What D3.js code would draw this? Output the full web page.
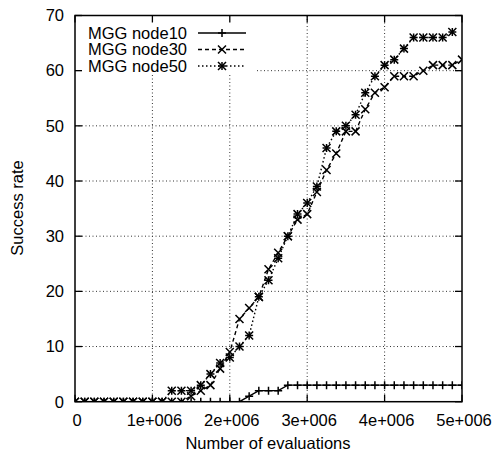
<!DOCTYPE html>
<html><head><meta charset="utf-8">
<script src="https://cdn.jsdelivr.net/npm/d3@7"></script>
<style>body{margin:0;background:#fff}svg{display:block}text{font-family:"Liberation Sans",Arial,sans-serif;fill:#000}</style>
</head><body>
<svg id="c" width="496" height="455"></svg>
<script>
const step = 125000;
const node10 = [0,0,0,0,0,0,0,0,0,0,0,0,0,0,0,0,0,0,1,2,2,2,3,3,3,3,3,3,3,3,3,3,3,3,3,3,3,3,3,3,3];
const node30 = [0,0,0,0,0,0,0,0,0,0,0,0,1,2,3,6,9,15,17,19,24,27,30,33,34,38,42,45,49,49,53,56,57,59,59,59,60,61,61,61,62];
const node50 = [0,0,0,0,0,0,0,0,0,0,2,2,2,3,5,7,8,10,12,19,22,26,30,34,36,39,46,49,50,52,56,59,61,62,64,66,66,66,66,67];
const seriesNames = ["MGG node10","MGG node30","MGG node50"];
const xTicks = [0,1e6,2e6,3e6,4e6,5e6];
const xTickLabels = ["0","1e+006","2e+006","3e+006","4e+006","5e+006"];
const yTicks = [0,10,20,30,40,50,60,70];

const L=75,R=462,T=15.5,B=401.7;
const FS=16.5;
const svg=d3.select("#c");
const x=d3.scaleLinear().domain([0,5e6]).range([L,R]);
const y=d3.scaleLinear().domain([0,70]).range([B,T]);

svg.append("defs").append("clipPath").attr("id","clip").append("rect")
  .attr("x",L).attr("y",T).attr("width",R-L).attr("height",B-T);

// grid
const g=svg.append("g");
g.selectAll(".gx").data(xTicks.slice(1,-1)).join("line")
  .attr("x1",d=>x(d)).attr("x2",d=>x(d)).attr("y1",T).attr("y2",B)
  .attr("stroke","#333").attr("stroke-width",1).attr("stroke-dasharray","1,2.5");
g.selectAll(".gy").data(yTicks.slice(1,-1)).join("line")
  .attr("y1",d=>y(d)).attr("y2",d=>y(d)).attr("x1",L).attr("x2",R)
  .attr("stroke","#333").attr("stroke-width",1).attr("stroke-dasharray","1,2.5");

// legend background
svg.append("rect").attr("x",L).attr("y",T).attr("width",181).attr("height",59).attr("fill","#fff");

// ticks
const tk=7;
xTicks.forEach(d=>{
  svg.append("line").attr("x1",x(d)).attr("x2",x(d)).attr("y1",B).attr("y2",B-tk).attr("stroke","#000").attr("stroke-width",1.3);
  svg.append("line").attr("x1",x(d)).attr("x2",x(d)).attr("y1",T).attr("y2",T+tk).attr("stroke","#000").attr("stroke-width",1.3);
});
yTicks.forEach(d=>{
  svg.append("line").attr("x1",L).attr("x2",L+tk).attr("y1",y(d)).attr("y2",y(d)).attr("stroke","#000").attr("stroke-width",1.3);
  svg.append("line").attr("x1",R).attr("x2",R-tk).attr("y1",y(d)).attr("y2",y(d)).attr("stroke","#000").attr("stroke-width",1.3);
});
svg.selectAll(".xl").data(xTicks).join("text")
  .attr("x",d=>x(d)+2).attr("y",426).attr("text-anchor","middle").attr("font-size",FS)
  .text((d,i)=>xTickLabels[i]);
svg.selectAll(".yl").data(yTicks).join("text")
  .attr("x",64).attr("y",d=>y(d)+5.8).attr("text-anchor","end").attr("font-size",FS)
  .text(d=>d);
svg.append("text").attr("x",268).attr("y",449).attr("text-anchor","middle").attr("font-size",FS).text("Number of evaluations");
svg.append("text").attr("transform","translate(23,208) rotate(-90)").attr("text-anchor","middle").attr("font-size",FS).text("Success rate");

// markers
const s=4;
function plus(sel){sel.append("path").attr("d",`M${-s},0H${s}M0,${-s}V${s}`);}
function cross(sel){sel.append("path").attr("d",`M${-s},${-s}L${s},${s}M${-s},${s}L${s},${-s}`);}
function star(sel){plus(sel);cross(sel);}
const styles=[
  {data:node10,dash:null,mark:plus},
  {data:node30,dash:"4,3",mark:cross},
  {data:node50,dash:"1.5,2.5",mark:star}
];
const plot=svg.append("g").attr("clip-path","url(#clip)");
const line=d3.line().x((d,i)=>x(i*step)).y(d=>y(d));
styles.forEach(st=>{
  plot.append("path").datum(st.data).attr("d",line).attr("fill","none")
    .attr("stroke","#000").attr("stroke-width",1.4).attr("stroke-dasharray",st.dash);
  st.data.forEach((v,i)=>{
    const m=plot.append("g").attr("transform",`translate(${x(i*step)},${y(v)})`)
      .attr("stroke","#000").attr("stroke-width",1.5).attr("fill","none");
    st.mark(m);
  });
});

// legend
const ly=[33,49.5,66];
styles.forEach((st,i)=>{
  svg.append("text").attr("x",187).attr("y",ly[i]+5.8).attr("text-anchor","end").attr("font-size",FS).text(seriesNames[i]);
  svg.append("line").attr("x1",198).attr("x2",246).attr("y1",ly[i]).attr("y2",ly[i])
    .attr("stroke","#000").attr("stroke-width",1.4).attr("stroke-dasharray",st.dash);
  const m=svg.append("g").attr("transform",`translate(222,${ly[i]})`).attr("stroke","#000").attr("stroke-width",1.5).attr("fill","none");
  st.mark(m);
});

// border
svg.append("rect").attr("x",L).attr("y",T).attr("width",R-L).attr("height",B-T)
  .attr("fill","none").attr("stroke","#000").attr("stroke-width",1.5);
</script>
</body></html>
